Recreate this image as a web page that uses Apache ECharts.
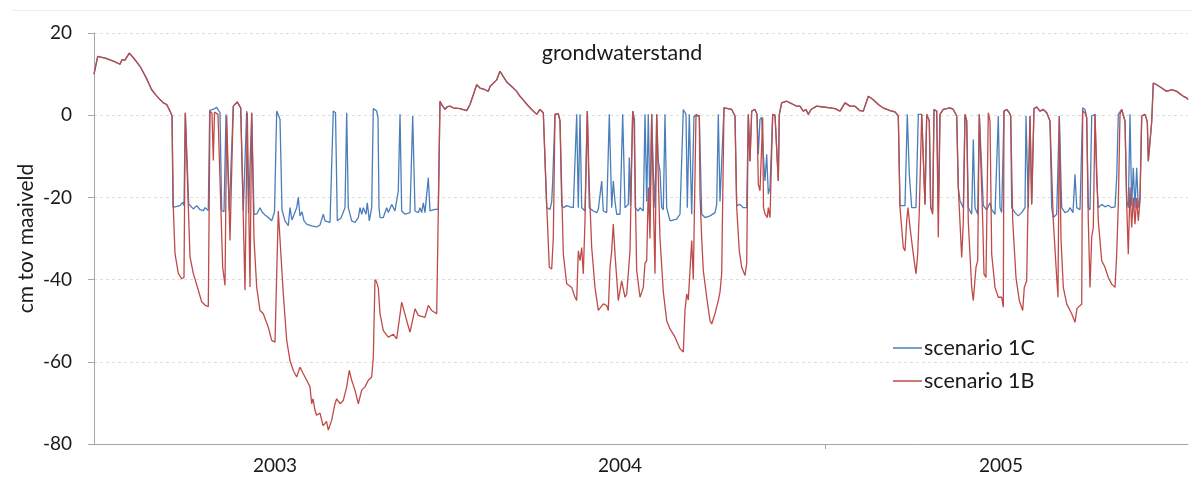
<!DOCTYPE html>
<html>
<head>
<meta charset="utf-8">
<script src="https://cdn.jsdelivr.net/npm/echarts@6/dist/echarts.min.js"></script>
<style>
  html, body { margin: 0; padding: 0; background: #ffffff; }
  #chart { width: 1192px; height: 480px; }
</style>
</head>
<body>
<div id="chart"></div>
<script>
// Groundwater level (cm relative to ground surface) per day since the start of the series.
const yearLabels = ['2003', '2004', '2005'];
const yearLabelDays = [181, 526, 907];
const yearTickDays = [731];

// Periods where both scenarios give the same level
const commonStart = [[0,10],[3.7,14.3],[12,13.8],[20,13.1],[26,12.4],[28,13.5],[31,13.4],[35.3,15.1],[40,13.8],[46,11.9],[52,9.2],[57.7,6.2],[62,4.9],[66,3.8],[69.3,3.0],[72.7,2.6],[76,1.0],[78,-0.2]];
const commonSpring2003 = [[346,3.4],[347.7,2.6],[351,1.4],[353,2],[356,2.2],[359,1.8],[361,2.2],[366,1.6],[372.7,1.1],[376,2.6],[382.7,7.4],[386,6.6],[391,6.2],[394.3,5.8],[396,7],[402.7,8.6],[406,10.7],[409,9.5],[413,8],[417.7,7],[422.7,5.8],[426,4.6],[429,3.8],[433,2.6],[437.7,1.4],[442.7,0.2],[446,1.4],[449.3,0.6],[451,0.2]];
const commonWinter2004 = [[687.7,3],[692.7,3.4],[696,3],[699.3,2.6],[702.7,2.2],[706,2.2],[709.3,1],[712,1.4],[714.3,0.2],[717,1.4],[722.7,2.2],[729.3,2],[736,1.8],[741,1.6],[746,1],[751,3],[756,2.2],[761,2.2],[766,1.1],[769.3,1],[774.3,4.6],[779,3.8],[784.3,2.6],[789,1.8],[791,1.6],[796,1.1],[801,0.8],[804.3,-0.2]];
const commonEnd = [[1047.7,-0.2],[1051,0.2],[1053.3,-1.6],[1054.3,-11.2],[1056,-11.2],[1057.7,-1.6],[1059.3,7.8],[1062.7,7.4],[1067.7,6.6],[1072.7,5.8],[1077.7,6.2],[1082.7,5.8],[1089.3,4.6],[1092.7,4.2],[1094,3.8]];

// Scenario 1C, dry periods
const s1cDry1 = [[79,-22.4],[86,-22],[88.7,-21.2],[90,-22],[91.3,0.6],[93,0.3],[94.7,-21.6],[99.3,-22.8],[102.7,-22],[106,-23],[109.3,-23.2],[111,-22.5],[114.3,-23.2],[115.7,1.2],[119,1.4],[122.7,1.9],[126,0.6],[127.7,-23.2],[130,-23.5],[132,0.2],[133.5,0],[135.3,-23.2],[137,-23],[139.3,2.2],[143.3,3.2],[146.7,1.8],[149.3,-23.3],[152.7,1],[154.5,-23.8],[157.7,0.6],[160,-24.1],[163,-24],[166,-22.5],[168,-23.5],[171,-24.3],[174.3,-24.9],[177.7,-25.7],[180.5,-23.5],[182.7,1],[184.5,0.6],[186,-1],[188,-23],[191,-25.7],[194.3,-26.9],[196,-22.5],[198,-25.5],[200,-25.8],[202.7,-22.5],[204.3,-20],[206,-24.5],[208,-23.5],[210,-25.7],[212.7,-26.5],[217.7,-26.9],[222.7,-27.2],[226,-26.7],[229.3,-24.1],[231,-25.7],[233,-25.3],[236,-26.1],[239.3,1],[241.5,0.6],[243.3,-25.7],[247,-25],[251,-22.5],[252.7,0.6],[254.3,-22.5],[257.7,-25.7],[261,-26.1],[264.3,-24.9],[266,-22.5],[267.7,-24.1],[269.3,-22.5],[272,-24.1],[273.3,-21.3],[275.3,-25.7],[277.7,-22.5],[279.3,1.6],[282.7,1],[284,-0.6],[285,-22.5],[286,-24.9],[289.3,-24.9],[292.7,-22.5],[294.3,-23.7],[297.7,-21.7],[301,-23.3],[304.3,-18.4],[306,0.2],[307.7,-23.3],[311,-24.1],[316,-23.7],[318.7,-0.2],[321,-23.3],[324.3,-23.7],[326,-22.5],[327.7,-23.7],[329.3,-21.3],[331,-23.7],[334.3,-15.2],[336,-23.3],[341,-22.9],[344.3,-22.9]];
const s1cDry2 = [[452.7,-22.5],[456,-22.9],[457.7,-21],[458.7,-16],[461,0.2],[464.3,0.4],[466,-1.4],[467.7,-22],[469.3,-22.5],[472.7,-22],[476,-22.3],[479.3,-22.5],[481,-22.9],[482.7,0.2],[484.3,-22.5],[486,0.2],[487.7,-22.5],[491,-23.3],[493.3,1],[495.3,-22.5],[499.3,-23.3],[502.7,-23.7],[504.3,-22.9],[507.7,-16],[509.3,-23.3],[512.7,-23.7],[515.3,0.2],[517.7,-22.5],[519.3,-16],[521,-21],[522.7,-24.1],[526,-24.1],[528.7,0.2],[531,-22.5],[534.3,-21.7],[535.3,-10.3],[536.5,-22],[538.7,1],[540.5,-1],[541.3,-22.5],[544.3,-23.3],[546,-22.5],[549.3,-23.3],[551,0.2],[552.7,-21],[554.3,0.2],[556,-23.3],[557.7,0.2],[559.3,-13.6],[561,-22.5],[562.7,0.2],[564.3,-11.2],[566,-13.6],[567.7,-22.5],[569.3,-23],[571,0.2],[572.7,-22.5],[576,-25.7],[582.7,-25.3],[586,-24.1],[589.3,1.4],[592,0.2],[593.3,-22.5],[595.3,0.2],[597.7,-24.1],[600,-0.2],[602,0.2],[605.3,-0.2],[607.7,-24.1],[611,-24.9],[616,-24.5],[621,-23.7],[622.7,-21.7],[624.3,0.2],[626,-21],[627.7,-21],[630,1.8],[634,1.6],[637.7,1.4],[641,-0.2],[642.7,-22],[646,-21.7],[649.3,-22.5],[652.7,-22.5],[654.3,0.2],[656,-11.2],[657.7,1],[661,1.4],[663,0.2],[664.3,-9.5],[666,-1],[667.7,-0.5],[669.3,-9.5],[671,-16],[672.7,-9.5],[674.3,-19.2],[676,-17.6],[678.7,0.2],[681,0],[682.7,0.2],[684.3,-16],[685.3,0.2]];
const s1cDry3 = [[806,-22],[811,-22],[813.3,0.2],[815.3,-14.4],[817.7,-22.5],[822,-22.5],[824.3,0.2],[827.7,0.2],[829.3,0.6],[831,-21.7],[832.7,0.2],[835.3,-1.4],[836.7,-22.5],[838.7,-23],[840,1.4],[842.7,1],[844.3,-23.5],[846,0.2],[849.3,1.4],[856,1.8],[859.3,1.4],[862.7,-0.2],[864.3,-17.6],[866,-20.8],[869.3,-22.5],[871,0.2],[872.7,-1.4],[874.3,-22.5],[877.7,-24.1],[879.3,-5.9],[881,-22.5],[883.7,-24.1],[885.3,0.2],[886.7,0.2],[889.3,-22],[892.7,-23],[896,-21.3],[897.7,-23],[901,-24.1],[902.7,-23.7],[904.3,-0.2],[906,-22.5],[907.7,-23.7],[910,1],[912.7,1.4],[915.3,0.6],[916.7,-0.2],[917.7,-22.5],[921,-23.7],[924.3,-24.5],[927.7,-23.7],[931,-22.5],[932,-0.2],[934.3,-22.5],[936,-0.2],[937.7,-21.7],[940,1.6],[942.7,2],[946,1],[949.3,1.4],[952.7,0.6],[954.3,1],[956,-1.4],[957.7,-22.5],[959.3,-24.9],[962.7,-24.1],[965.3,-0.2],[967.7,-22.5],[971,-23.7],[974.3,-23.3],[976,-22.5],[979,-23.7],[981,-14.4],[982.7,-22.5],[986,-23],[988.7,1.8],[991,1.4],[992.7,-0.6],[994.3,-22.5],[996,-23],[997.7,-0.2],[1001,0.2],[1002.7,-16],[1004.3,-22.5],[1007.7,-21.7],[1011,-22.3],[1014.3,-21.9],[1017.7,-22.5],[1021,-22.3],[1022.7,-15.2],[1024.3,0.2],[1027.7,1.4],[1031,-1.4],[1032.7,-20.9],[1034.3,-22.5],[1036,0.2],[1037.7,-22],[1039.3,-12.8],[1041,-22.5],[1042.7,-12.8],[1044.3,-22.5],[1046,-20]];

// Scenario 1B, dry periods
const s1bDry1 = [[79.3,-22.4],[81,-33.7],[84.3,-38.5],[87.7,-39.8],[90,-39.5],[91.3,0.6],[93,0.3],[94,-20],[96,-34.5],[99.3,-38.5],[104.3,-42.6],[107.7,-45.4],[111,-46.2],[114.3,-46.6],[116,1],[118,0.5],[119.3,-11],[120.5,0.8],[124,0.2],[126,-0.2],[128.7,-37],[131,-41.4],[132.7,-0.2],[134,-0.5],[136,-30.5],[139.3,2.2],[143.3,3.2],[146.7,1.8],[151,-42.6],[153.3,0.6],[156,-41.8],[157.7,0.6],[160,-30],[162.7,-41.9],[166,-47.5],[169.3,-48.3],[174.3,-51.6],[177.7,-54.8],[181,-55.2],[184.3,-23.3],[189.3,-43.5],[192.7,-54.8],[196,-59.7],[199.3,-62.1],[202.7,-63.7],[206,-61.3],[209.3,-62.9],[212.7,-64.5],[216,-66.1],[217.7,-70.2],[219,-69],[221,-71.8],[222.5,-73],[224.3,-73.4],[226,-72.5],[227.7,-74.2],[229,-75.5],[231,-75],[232.5,-74.5],[234.3,-76.6],[236,-77],[237.7,-74.2],[241,-70.2],[242.7,-69],[246,-70.2],[249.3,-69.4],[252.7,-66.1],[255.3,-62.1],[257.7,-64.5],[261,-66.9],[264.3,-70.2],[267.7,-66.9],[271,-66.1],[274.3,-64.5],[277.7,-63.7],[279.3,-58.9],[281,-40],[282.5,-40.5],[284.3,-42],[286,-48.3],[289.3,-52.4],[294.3,-54],[299.3,-53.3],[302.7,-54.4],[307.7,-45.5],[312.7,-50],[316,-52.8],[321,-47.1],[324.3,-48.7],[331,-49.2],[334.3,-46.3],[337.7,-47.5],[342.7,-48.3],[344.3,-47.9]];
const s1bDry2 = [[452.7,-21.7],[455.3,-37],[457.7,-37.4],[459.3,-29.8],[461,0.2],[464.3,0.4],[466,-1.4],[469.3,-33.8],[472.7,-41],[477.7,-41.9],[481,-44.3],[482.7,-45.1],[484.3,-33],[486,-35.4],[487.7,-32.2],[489.3,-38.6],[491,-25.7],[493.3,1],[495.3,-17.6],[497.7,-32.2],[501,-41.9],[504.3,-47.5],[509.3,-45.9],[512.7,-46.3],[514.3,-47.5],[516,-37],[517.7,-33],[519.3,-26.5],[521,-33.8],[524.3,-45.1],[527.7,-40.3],[531,-44.3],[532.7,-43.5],[536,-33],[538.7,1],[540,-1.4],[542.7,-37.8],[546,-44.3],[549.3,-41.9],[551,-36],[552.7,-35.4],[554.3,-17.6],[556,-30],[557.7,0.2],[559.3,-20],[561,-38.6],[562.7,0.2],[564.3,-15],[566,-30],[569.3,-43],[572.7,-50],[576,-52],[581,-54],[586,-56.8],[589.3,-57.6],[591,-47.5],[592.7,-43.5],[594.3,-45],[597.7,-30.5],[599.3,-40],[602,0.2],[605.3,-0.2],[606,-19.2],[607.7,-30],[609.3,-37.8],[612.7,-44.3],[616,-50],[617.7,-50.8],[621,-48.3],[624.3,-45.1],[626,-43],[627.7,-38.6],[630,1.8],[634,1.6],[637.7,1.4],[641,-0.2],[642.7,-22.5],[645.3,-33],[647.7,-37],[651,-39],[652.7,-36],[654.3,0.2],[656,-11.2],[657.7,1],[661,1.4],[663,0.2],[664.3,-16.8],[666,-18.4],[668.7,-0.6],[669.5,-22.5],[671,-24],[673.3,-24.9],[674.3,-22.5],[676,-24.9],[678.7,0.2],[681,0],[682.7,0.2],[684.3,-16],[685.3,0.2]];
const s1bDry3 = [[806,-22.5],[809.3,-32.2],[811,-33],[812.7,-25.7],[814,-22.5],[816,-27.3],[819.3,-33.8],[822,-38.6],[823.7,-33.8],[825.3,-23.3],[827.7,0.2],[829.3,0.6],[831,-21.7],[832.7,0.2],[835.3,-1.4],[836.7,-22.5],[838.7,-24.1],[840,1.4],[842.7,1],[844.3,-29.7],[846,0.2],[849.3,1.4],[856,1.8],[859.3,1.4],[862.7,-0.2],[864.3,-17.6],[867.7,-34.6],[869.3,-26],[871,0.2],[872.7,-1.4],[874.3,-26],[877.7,-41.9],[879.3,-45.1],[882,-37],[883.7,-35.4],[885.3,0.2],[886.7,0.2],[888.7,-25.7],[890,-38.6],[892,-39.5],[894.3,0.6],[896,-1.4],[897.7,-33.8],[901,-41.9],[904.3,-44.3],[907.7,-44.3],[909.3,-46.7],[910,1],[912.7,1.4],[915.3,0.6],[916.7,-0.2],[918.7,-25.7],[922,-39.5],[925.3,-45.1],[928.7,-47.5],[930.3,-41.9],[932.7,-40.3],[934.3,-17.6],[936,-0.2],[937.7,-21.7],[940,1.6],[942.7,2],[946,1],[949.3,1.4],[952.7,0.6],[954.3,1],[956,-1.4],[959.3,-25.7],[962.7,-39.5],[964,-44.3],[965.3,-0.2],[967,-30],[969.3,-41.9],[972.7,-45.9],[977.7,-48.3],[981,-50.4],[983,-47],[987.7,-46],[988.7,1],[991,0.6],[992.7,-0.6],[994.3,-25.7],[996,-41.9],[997.7,-29.7],[999.3,-27.3],[1001,0.2],[1002.7,0.2],[1004.3,-25.7],[1007.7,-35.4],[1011,-37],[1014.3,-39.5],[1017.7,-41.1],[1021,-41.9],[1022.7,-33.8],[1024.3,-21.7],[1026,0.2],[1027.7,1.4],[1031,-1.4],[1032.7,-21.7],[1034.3,-33.8],[1036,-17.6],[1037.7,-27.3],[1039.3,-20.1],[1041,-26.5],[1042.7,-20.1],[1044.3,-25.7],[1046,-20.9]];

const scenario1C = [].concat(commonStart, s1cDry1, commonSpring2003, s1cDry2, commonWinter2004, s1cDry3, commonEnd);
const scenario1B = [].concat(commonStart, s1bDry1, commonSpring2003, s1bDry2, commonWinter2004, s1bDry3, commonEnd);

const FONT = 'Lato';
const TEXT = '#1a1a1a';
const chart = echarts.init(document.getElementById('chart'), null, { renderer: 'canvas' });

chart.setOption({
  animation: false,
  backgroundColor: '#ffffff',
  textStyle: { fontFamily: FONT },
  graphic: [{
    type: 'line',
    shape: { x1: 12, y1: 10.5, x2: 1192, y2: 10.5 },
    style: { stroke: '#ededed', lineWidth: 1 },
    silent: true
  }],
  title: {
    text: 'grondwaterstand',
    left: 622,
    top: 42,
    padding: 0,
    textAlign: 'center',
    textStyle: { fontFamily: FONT, fontSize: 21.5, fontWeight: 'normal', color: TEXT }
  },
  legend: {
    orient: 'vertical',
    left: 893,
    top: 337,
    padding: 0,
    icon: 'rect',
    itemWidth: 29,
    itemHeight: 1.5,
    itemGap: 11,
    textStyle: { fontFamily: FONT, fontSize: 21.5, color: TEXT, padding: [0, 0, 0, -3] },
    data: ['scenario 1C', 'scenario 1B']
  },
  grid: { left: 94, right: 4, top: 33, bottom: 36, containLabel: false },
  xAxis: {
    type: 'value',
    min: 0,
    max: 1094,
    axisLine: { show: true, onZero: false, lineStyle: { color: '#a6a6a6', width: 1 } },
    axisTick: { show: true, customValues: yearTickDays, length: 5, lineStyle: { color: '#a6a6a6' } },
    axisLabel: {
      customValues: yearLabelDays,
      formatter: function (v) { return yearLabels[yearLabelDays.indexOf(v)]; },
      fontFamily: FONT, fontSize: 19, color: TEXT, margin: 12
    },
    splitLine: { show: false }
  },
  yAxis: {
    type: 'value',
    min: -80,
    max: 20,
    interval: 20,
    name: 'cm tov maaiveld',
    nameLocation: 'middle',
    nameGap: 57,
    nameMoveOverlap: false,
    nameTextStyle: { fontFamily: FONT, fontSize: 21, color: TEXT },
    axisLine: { show: true, lineStyle: { color: '#a6a6a6', width: 1 } },
    axisTick: { show: true, length: 6, lineStyle: { color: '#a6a6a6' } },
    axisLabel: { fontFamily: FONT, fontSize: 19, color: TEXT, margin: 22 },
    splitLine: { show: true, lineStyle: { color: '#dedede', type: [3, 3], width: 1 } }
  },
  series: [
    {
      name: 'scenario 1C',
      type: 'line',
      data: scenario1C,
      symbol: 'none',
      lineStyle: { color: '#4a7ebb', width: 1.3 },
      itemStyle: { color: '#4a7ebb' },
      z: 2
    },
    {
      name: 'scenario 1B',
      type: 'line',
      data: scenario1B,
      symbol: 'none',
      lineStyle: { color: '#be4b48', width: 1.3 },
      itemStyle: { color: '#be4b48' },
      z: 3
    }
  ]
});
</script>
</body>
</html>
